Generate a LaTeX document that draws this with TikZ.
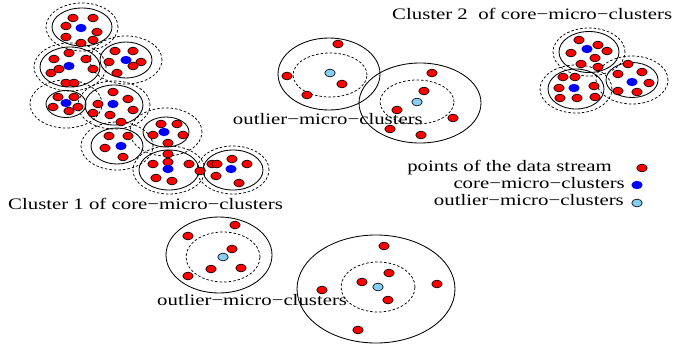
\documentclass[tikz,border=0pt]{standalone}
\usepackage{fontspec}
\usepackage{graphicx}
\setmainfont{Liberation Serif}
\definecolor{lblue}{RGB}{135,206,245}
\newcommand\lbl[1]{\scalebox{1.3}[1]{#1}}
\begin{document}
\begin{tikzpicture}[x=1pt,y=-1pt,
  solidc/.style={draw=black,line width=0.85pt},
  dashc/.style={draw=black,line width=0.75pt,dash pattern=on 2.5pt off 2pt},
  rdot/.style={fill=red,draw=black,line width=0.65pt},
  bdot/.style={fill=blue},
  ldot/.style={fill=lblue,draw=black,line width=0.65pt},
  txt/.style={inner sep=0pt,font=\fontsize{16}{19}\selectfont}]
\useasboundingbox (0,0) rectangle (676,346);
% core micro-clusters: center / solid radii
\foreach \cx/\cy/\rx/\ry in {82/27/30/19, 70/67/30/20, 126/60/26/18, 66/104/20/13.5,
  114/105/29/20, 117/146/26/18, 166/132/23/15, 169/170/30/20, 233/170/30/20,
  589/52/30/20.5, 576/89/28/20, 632/80/26/17.5}{
  \path[solidc] (\cx,\cy) ellipse [x radius=\rx pt, y radius=\ry pt];
  \path[dashc] (\cx,\cy) ellipse [x radius=36pt, y radius=24pt];
}
% outlier micro-clusters
\path[solidc] (329,74) ellipse [x radius=51pt, y radius=36pt];
\path[dashc] (330,75) ellipse [x radius=37pt, y radius=22pt];
\path[solidc] (420,103) ellipse [x radius=61pt, y radius=40pt];
\path[dashc] (417,102) ellipse [x radius=37pt, y radius=22pt];
\path[solidc] (219,255) ellipse [x radius=53pt, y radius=38pt];
\path[dashc] (223,257) ellipse [x radius=37pt, y radius=25pt];
\path[solidc] (376,289) ellipse [x radius=79pt, y radius=54pt];
\path[dashc] (378,287) ellipse [x radius=37pt, y radius=25pt];
% red points
\foreach \x/\y in {73/18, 93/18, 66/26, 97/32, 66/37, 81/43, 93/40,
  69/53, 54/59, 86/59, 51/73, 59/69, 93/69, 66/83, 74/83,
  115/51, 133/51, 109/62, 141/62, 133/66, 117/73,
  58/97, 74/97, 53/107, 69/111, 78/107,
  113/92, 98/104, 128/99, 93/113, 110/115, 133/110, 121/122,
  109/136, 128/136, 105/148, 123/157,
  161/124, 177/124, 153/135, 183/135, 168/143,
  168/154, 168/162, 153/164, 189/164, 156/178, 172/181, 200/171,
  212/164, 217/164, 232/159, 247/164, 216/176, 239/183,
  579/40, 598/45, 607/51, 571/53, 595/58, 581/64, 598/67,
  563/77, 575/77, 559/88, 594/86, 560/98, 577/98, 595/97,
  628/64, 618/74, 642/72, 649/83, 618/91, 637/92,
  338/44, 287/76, 342/84, 307/95,
  432/73, 424/91, 397/110, 453/118, 390/129, 421/135,
  235/225, 188/236, 232/249, 211/269, 241/268, 188/276,
  384/246, 389/273, 362/282, 437/284, 322/290, 388/300, 358/330,
  642/168}
  \path[rdot] (\x,\y) ellipse [x radius=5.2pt, y radius=3.9pt];
% core centers
\foreach \x/\y in {81/28, 69/66, 126/60, 66/103, 113/104, 121/146, 164/132, 168/169, 231/169,
  587/49, 574/88, 632/82, 637/185}
  \path[bdot] (\x,\y) ellipse [x radius=5.6pt, y radius=4.2pt];
% outlier centers
\foreach \x/\y in {330/73, 417/102, 223/257, 378/287, 637/203}
  \path[ldot] (\x,\y) ellipse [x radius=5.2pt, y radius=3.9pt];
% labels
\node[txt,anchor=base west] (c2) at (392,19) {\lbl{Cluster 2\ \ of core−micro−clusters}};
\node[txt,anchor=base west] (c1) at (8,209) {\lbl{Cluster 1 of core−micro−clusters}};
\node[txt,anchor=base east] (o1) at (423,124) {\lbl{outlier−micro−clusters}};
\node[txt,anchor=base west] (o2) at (157,305) {\lbl{outlier−micro−clusters}};
\node[txt,anchor=base east] (l1) at (612,171) {\lbl{points of the data stream}};
\node[txt,anchor=base east] (l2) at (625,188) {\lbl{core−micro−clusters}};
\node[txt,anchor=base east] (l3) at (624,205) {\lbl{outlier−micro−clusters}};
\end{tikzpicture}
\end{document}
